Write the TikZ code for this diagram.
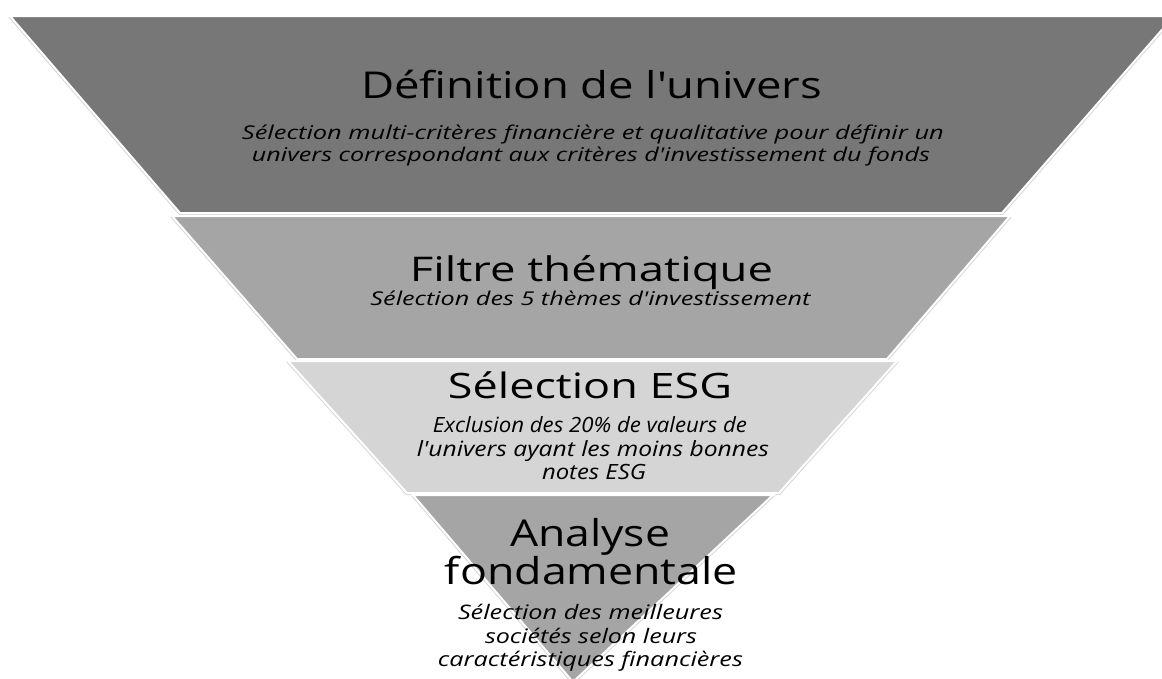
\documentclass[tikz,border=0pt]{standalone}
\usepackage{fontspec}
\setmainfont{Open Sans}[Ligatures=TeXOff]
\usepackage{graphicx}
\definecolor{bandA}{RGB}{119,119,119}
\definecolor{bandB}{RGB}{165,165,165}
\definecolor{bandC}{RGB}{213,213,213}
\definecolor{bandD}{RGB}{165,165,165}
\definecolor{rimcol}{RGB}{215,215,215}
\newcommand\fitw[2]{\resizebox{#1pt}{\height}{#2}}
\begin{document}
\begin{tikzpicture}[x=1pt,y=-1pt,
  rim/.style={draw=rimcol,line width=4pt,line join=miter},
  band/.style={draw=white,line width=2pt,line join=miter},
  ttl/.style={anchor=base,inner sep=0pt,text=black},
  sub/.style={anchor=base,inner sep=0pt,text=black,font=\itshape}]
\useasboundingbox (0,0) rectangle (1162,678);
\clip (0,0) rectangle (1162,678);
\fill[white] (0,0) rectangle (1162,678);
% funnel bands
\draw[rim] (10,16) -- (180,213) -- (1002,213) -- (1174,16);
\draw[band,fill=bandA] (10,16) -- (1174,16) -- (1002,213) -- (180,213) -- cycle;
\draw[rim] (172,216) -- (297,359) -- (887,359) -- (1010,216);
\draw[band,fill=bandB] (172,216) -- (1010,216) -- (887,359) -- (297,359) -- cycle;
\draw[rim] (288,361) -- (407,493) -- (779,493) -- (897,361);
\draw[band,fill=bandC] (288,361) -- (897,361) -- (779,493) -- (407,493) -- cycle;
\draw[rim] (413,495) -- (573,682) -- (773,495);
\draw[band,fill=bandD] (413,495) -- (773,495) -- (573,682) -- cycle;
% band 1
\node[ttl,font=\fontsize{37}{40}\selectfont] (t1) at (591.5,98) {\fitw{461}{Définition de l'univers}};
\node[sub,font=\fontsize{19}{21}\selectfont\itshape] (s1a) at (593,139) {\fitw{702}{Sélection multi-critères financière et qualitative pour définir un}};
\node[sub,font=\fontsize{19}{21}\selectfont\itshape] (s1b) at (591,161) {\fitw{678}{univers correspondant aux critères d'investissement du fonds}};
% band 2
\node[ttl,font=\fontsize{34}{36}\selectfont] (t2) at (591.5,281) {\fitw{363}{Filtre thématique}};
\node[sub,font=\fontsize{19}{21}\selectfont\itshape] (s2) at (590.5,305) {\fitw{440}{Sélection des 5 thèmes d'investissement}};
% band 3
\node[ttl,font=\fontsize{35}{36}\selectfont] (t3) at (590,398) {\fitw{284}{Sélection ESG}};
\node[sub,font=\fontsize{21}{24}\selectfont\itshape] (s3a) at (590,432) {\fitw{314}{Exclusion des 20\% de valeurs de}};
\node[sub,font=\fontsize{21}{24}\selectfont\itshape] (s3b) at (593,456) {\fitw{352}{l'univers ayant les moins bonnes}};
\node[sub,font=\fontsize{21}{24}\selectfont\itshape] (s3c) at (594,479) {\fitw{104}{notes ESG}};
% band 4
\node[ttl,font=\fontsize{37}{40}\selectfont] (t4a) at (590,546) {\fitw{160}{Analyse}};
\node[ttl,font=\fontsize{37}{40}\selectfont] (t4b) at (591.5,584) {\fitw{293}{fondamentale}};
\node[sub,font=\fontsize{20}{23}\selectfont\itshape] (s4a) at (590.5,619) {\fitw{265}{Sélection des meilleures}};
\node[sub,font=\fontsize{20}{23}\selectfont\itshape] (s4b) at (591,643) {\fitw{212}{sociétés selon leurs}};
\node[sub,font=\fontsize{20}{23}\selectfont\itshape] (s4c) at (590.5,666) {\fitw{305}{caractéristiques financières}};
\end{tikzpicture}
\end{document}
